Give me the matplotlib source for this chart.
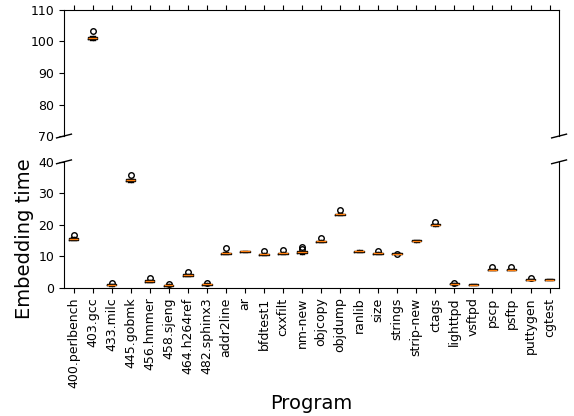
import matplotlib
matplotlib.use("Agg")
from matplotlib import pyplot as plt

# Programs on the x axis
programs = ["400.perlbench", "403.gcc", "433.milc", "445.gobmk", "456.hmmer", "458.sjeng",
            "464.h264ref", "482.sphinx3", "addr2line", "ar", "bfdtest1", "cxxfilt", "nm-new",
            "objcopy", "objdump", "ranlib", "size", "strings", "strip-new", "ctags",
            "lighttpd", "vsftpd", "pscp", "psftp", "puttygen", "cgtest"]

# Box statistics (embedding time)
medians = [15.6, 101.1, 1.0, 34.1, 2.2, 0.85, 4.1, 1.2, 11.0, 11.6, 10.7, 11.0, 11.3,
           14.8, 23.4, 11.7, 11.0, 10.9, 15.0, 20.0, 1.3, 1.05, 5.8, 5.8, 2.6, 2.6]
q1s = [15.3, 100.8, 0.85, 33.9, 2.0, 0.7, 3.9, 1.05, 10.8, 11.5, 10.5, 10.8, 11.1,
       14.6, 23.2, 11.5, 10.8, 10.8, 14.8, 19.8, 1.15, 0.95, 5.7, 5.7, 2.5, 2.5]
q3s = [15.9, 101.4, 1.15, 34.4, 2.4, 1.0, 4.3, 1.35, 11.2, 11.7, 10.9, 11.2, 11.6,
       15.0, 23.6, 11.8, 11.2, 11.0, 15.1, 20.2, 1.45, 1.15, 5.9, 5.9, 2.7, 2.7]
whislo = [15.1, 100.6, 0.7, 33.7, 1.9, 0.6, 3.7, 0.9, 10.6, 11.4, 10.3, 10.6, 10.9,
          14.4, 23.0, 11.4, 10.6, 10.7, 14.7, 19.6, 1.0, 0.85, 5.6, 5.6, 2.4, 2.4]
whishi = [16.1, 101.7, 1.3, 34.7, 2.6, 1.1, 4.5, 1.5, 11.4, 11.8, 11.1, 11.4, 11.8,
          15.2, 23.8, 11.9, 11.4, 11.1, 15.3, 20.4, 1.55, 1.2, 6.0, 6.0, 2.8, 2.8]
fliers = [[16.7], [103.4], [1.4], [35.8], [3.1], [1.3], [5.0], [1.7], [12.5], [],
          [11.6], [12.0], [12.3, 13.1], [15.7], [24.7], [], [11.6], [10.6], [], [21.0],
          [1.7], [], [6.6], [6.6], [3.0], []]

stats = []
for i, name in enumerate(programs):
    stats.append(dict(label=name, med=medians[i], q1=q1s[i], q3=q3s[i],
                      whislo=whislo[i], whishi=whishi[i], fliers=fliers[i]))

fig = plt.figure(figsize=(5.74, 4.16), dpi=100)
ax = fig.add_axes([0.1115, 0.673, 0.8625, 0.303])   # top part
ax2 = fig.add_axes([0.1115, 0.308, 0.8625, 0.303])  # bottom part

positions = list(range(1, len(programs) + 1))
for a in (ax, ax2):
    a.bxp(stats, positions=positions, widths=0.5,
          flierprops=dict(marker="o", markersize=4, markerfacecolor="none"))

ax.set_ylim(70, 110)
ax2.set_ylim(0, 40)
ax.set_yticks([70, 80, 90, 100, 110])
ax2.set_yticks([0, 10, 20, 30, 40])
ax.set_xlim(0.5, len(programs) + 0.5)
ax2.set_xlim(0.5, len(programs) + 0.5)

# broken axis look
ax.spines["bottom"].set_visible(False)
ax2.spines["top"].set_visible(False)
ax.xaxis.tick_top()
ax.tick_params(labeltop=False, labelsize=9)
ax2.xaxis.tick_bottom()
ax2.tick_params(labelsize=9)
ax2.set_xticks(positions)
ax2.set_xticklabels(programs, rotation=90)

d = 0.015
kw = dict(transform=ax.transAxes, color="k", clip_on=False, linewidth=1)
ax.plot((-d, +d), (-d, +d), **kw)
ax.plot((1 - d, 1 + d), (-d, +d), **kw)
kw.update(transform=ax2.transAxes)
ax2.plot((-d, +d), (1 - d, 1 + d), **kw)
ax2.plot((1 - d, 1 + d), (1 - d, 1 + d), **kw)

ax2.set_xlabel("Program", fontsize=14)
fig.text(0.043, 0.427, "Embedding time", rotation=90, fontsize=14, ha="center", va="center")

fig.savefig("out.png", dpi=100)
